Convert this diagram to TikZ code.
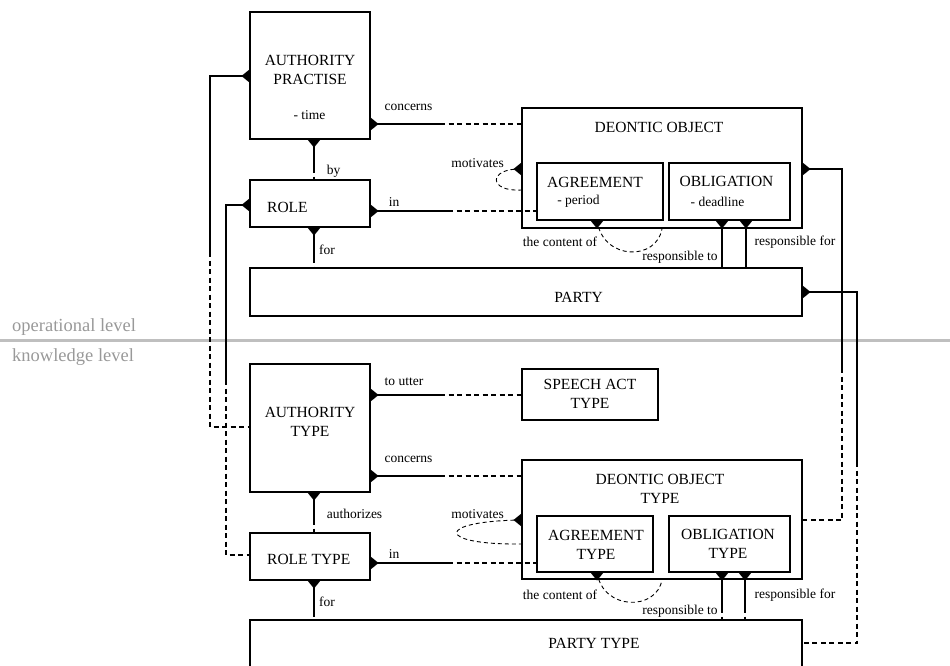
\documentclass[tikz,border=0pt]{standalone}
\usepackage{fontspec}
\setmainfont{Liberation Serif}
\begin{document}
\begin{tikzpicture}[x=1pt,y=-1pt,
  box/.style={draw, line width=1.1pt, fill=white, inner sep=0pt, rectangle},
  big/.style={font=\fontsize{15.5}{19}\selectfont, inner sep=0pt, align=center},
  lbl/.style={font=\fontsize{13.5}{16}\selectfont, inner sep=0pt},
  rel/.style={line width=1.1pt},
  dsh/.style={line width=1.1pt, dash pattern=on 5pt off 3.5pt},
  loopl/.style={line width=0.9pt, dash pattern=on 4pt off 3pt},
  lvl/.style={font=\fontsize{18.5}{22}\selectfont, text=black!40, inner sep=0pt, anchor=west},
  dia/.pic={\fill (0,-6.5) -- (8,0) -- (0,6.5) -- cycle;}
]
\useasboundingbox (0,0) rectangle (950,665);
\clip (0,0) rectangle (950,665);

% level separator
\draw[black!25, line width=2.5pt] (0,340.5) -- (950,340.5);
\node[lvl] (op) at (12,327) {operational level};
\node[lvl] (kn) at (12,357) {knowledge level};

% boxes
\node[box, minimum width=120pt, minimum height=127pt] (ap) at (310,75.5) {};
\node[box, minimum width=120pt, minimum height=47pt] (role) at (310,203.5) {};
\node[box, minimum width=280pt, minimum height=120pt] (deo) at (662,168) {};
\node[box, minimum width=126pt, minimum height=57pt] (agr) at (600,191.5) {};
\node[box, minimum width=121pt, minimum height=57pt] (obl) at (729.5,191.5) {};
\node[box, minimum width=552pt, minimum height=48pt] (party) at (526,292) {};
\node[box, minimum width=120pt, minimum height=128pt] (autht) at (310,428) {};
\node[box, minimum width=136pt, minimum height=51pt] (sat) at (590,394.5) {};
\node[box, minimum width=120pt, minimum height=47pt] (rolet) at (310,556.5) {};
\node[box, minimum width=280pt, minimum height=119pt] (deot) at (662,519.5) {};
\node[box, minimum width=116pt, minimum height=56pt] (agrt) at (595,544) {};
\node[box, minimum width=121pt, minimum height=56pt] (oblt) at (729.5,544) {};
\node[box, minimum width=552pt, minimum height=80pt] (partyt) at (526,660) {};

% box texts
\node[big] (tap) at (310,69.5) {AUTHORITY\\PRACTISE};
\node[lbl] (ttime) at (309.5,115) {- time};
\node[big, anchor=west] (trole) at (267,207) {ROLE};
\node[big] (tdeo) at (659,127) {DEONTIC OBJECT};
\node[big] (tagr) at (595,182) {AGREEMENT};
\node[lbl] (tperiod) at (578.5,201) {- period};
\node[big] (tobl) at (726.5,181) {OBLIGATION};
\node[lbl] (tdead) at (717.5,202) {- deadline};
\node[big] (tparty) at (578.5,297) {PARTY};
\node[big] (tautht) at (310,421.5) {AUTHORITY\\TYPE};
\node[big] (tsat) at (590,394) {SPEECH ACT\\TYPE};
\node[big] (tdeot) at (660,488.5) {DEONTIC OBJECT\\TYPE};
\node[big] (tagrt) at (596,544.5) {AGREEMENT\\TYPE};
\node[big] (toblt) at (728,543.5) {OBLIGATION\\TYPE};
\node[big, anchor=west] (trolet) at (267,559) {ROLE TYPE};
\node[big] (tpartyt) at (594,643) {PARTY TYPE};

% relation labels
\node[lbl] (l1) at (408.5,107) {concerns};
\node[lbl] (l2) at (333.5,171) {by};
\node[lbl] (l3) at (394,202) {in};
\node[lbl] (l4) at (327,250) {for};
\node[lbl] (l5) at (477.5,163) {motivates};
\node[lbl] (l6) at (560,242) {the content of};
\node[lbl] (l7) at (680,257) {responsible to};
\node[lbl] (l8) at (795,242) {responsible for};
\node[lbl] (l9) at (404,382) {to utter};
\node[lbl] (l10) at (408.5,459) {concerns};
\node[lbl] (l11) at (354.5,514) {authorizes};
\node[lbl] (l12) at (394,554) {in};
\node[lbl] (l13) at (327,602) {for};
\node[lbl] (l14) at (477.5,514) {motivates};
\node[lbl] (l15) at (560,595) {the content of};
\node[lbl] (l16) at (680,611) {responsible to};
\node[lbl] (l17) at (795,595) {responsible for};

% connectors: operational level
\draw[rel] (ap.west |- 0,76) -| (210,252);
\draw[dsh] (210,252) |- (autht.west |- 0,427);
\draw[rel] (ap.east |- 0,124) -- (440,124);
\draw[dsh] (440,124) -- (deo.west |- 0,124);
\draw[rel] (ap.south -| 314,0) -- (314,168);
\draw[dsh] (314,168) -- (role.north -| 314,0);
\draw[rel] (role.west |- 0,205) -| (226,380);
\draw[dsh] (226,380) |- (rolet.west |- 0,555);
\draw[rel] (role.east |- 0,211) -- (448,211);
\draw[dsh] (448,211) -- (agr.west |- 0,211);
\draw[rel] (role.south -| 314,0) -- (314,258);
\draw[dsh] (314,258) -- (party.north -| 314,0);
\draw[loopl] (deo.west |- 0,169) .. controls (488,168) and (488,192) .. (deo.west |- 0,190);
\draw[loopl] (agr.south -| 597,0) .. controls (603,261) and (657,261) .. (deo.south -| 662,0);
\draw[rel] (obl.south -| 722,0) -- (722,262);
\draw[dsh] (722,262) -- (party.north -| 722,0);
\draw[rel] (obl.south -| 746,0) -- (746,262);
\draw[dsh] (746,262) -- (party.north -| 746,0);
\draw[rel] (deo.east |- 0,169) -| (842,368);
\draw[dsh] (842,368) |- (deot.east |- 0,520);
\draw[rel] (party.east |- 0,292) -| (857,462);
\draw[dsh] (857,462) |- (partyt.east |- 0,643);

% connectors: knowledge level
\draw[rel] (autht.east |- 0,395) -- (440,395);
\draw[dsh] (440,395) -- (sat.west |- 0,395);
\draw[rel] (autht.east |- 0,476) -- (440,476);
\draw[dsh] (440,476) -- (deot.west |- 0,476);
\draw[rel] (autht.south -| 314,0) -- (314,520);
\draw[dsh] (314,520) -- (rolet.north -| 314,0);
\draw[rel] (rolet.east |- 0,563) -- (448,563);
\draw[dsh] (448,563) -- (agrt.west |- 0,563);
\draw[rel] (rolet.south -| 314,0) -- (314,612);
\draw[dsh] (314,612) -- (partyt.north -| 314,0);
\draw[loopl] (deot.west |- 0,520) .. controls (435,521) and (435,545) .. (deot.west |- 0,544);
\draw[loopl] (agrt.south -| 597,0) .. controls (603,611) and (657,611) .. (deot.south -| 662,0);
\draw[rel] (oblt.south -| 722,0) -- (722,608);
\draw[dsh] (722,608) -- (partyt.north -| 722,0);
\draw[rel] (oblt.south -| 745,0) -- (745,608);
\draw[dsh] (745,608) -- (partyt.north -| 745,0);

% diamonds
\pic[rotate=180] at (ap.west |- 0,76) {dia};
\pic at (ap.east |- 0,124) {dia};
\pic[rotate=-90] at (ap.south -| 314,0) {dia};
\pic[rotate=180] at (role.west |- 0,205) {dia};
\pic at (role.east |- 0,211) {dia};
\pic[rotate=-90] at (role.south -| 314,0) {dia};
\pic[rotate=180] at (deo.west |- 0,169) {dia};
\pic at (deo.east |- 0,169) {dia};
\pic[rotate=-90] at (agr.south -| 597,0) {dia};
\pic[rotate=-90] at (obl.south -| 722,0) {dia};
\pic[rotate=-90] at (obl.south -| 746,0) {dia};
\pic at (party.east |- 0,292) {dia};
\pic at (autht.east |- 0,395) {dia};
\pic at (autht.east |- 0,476) {dia};
\pic[rotate=-90] at (autht.south -| 314,0) {dia};
\pic at (rolet.east |- 0,563) {dia};
\pic[rotate=-90] at (rolet.south -| 314,0) {dia};
\pic[rotate=180] at (deot.west |- 0,520) {dia};
\pic[rotate=-90] at (agrt.south -| 597,0) {dia};
\pic[rotate=-90] at (oblt.south -| 722,0) {dia};
\pic[rotate=-90] at (oblt.south -| 745,0) {dia};
\end{tikzpicture}
\end{document}
